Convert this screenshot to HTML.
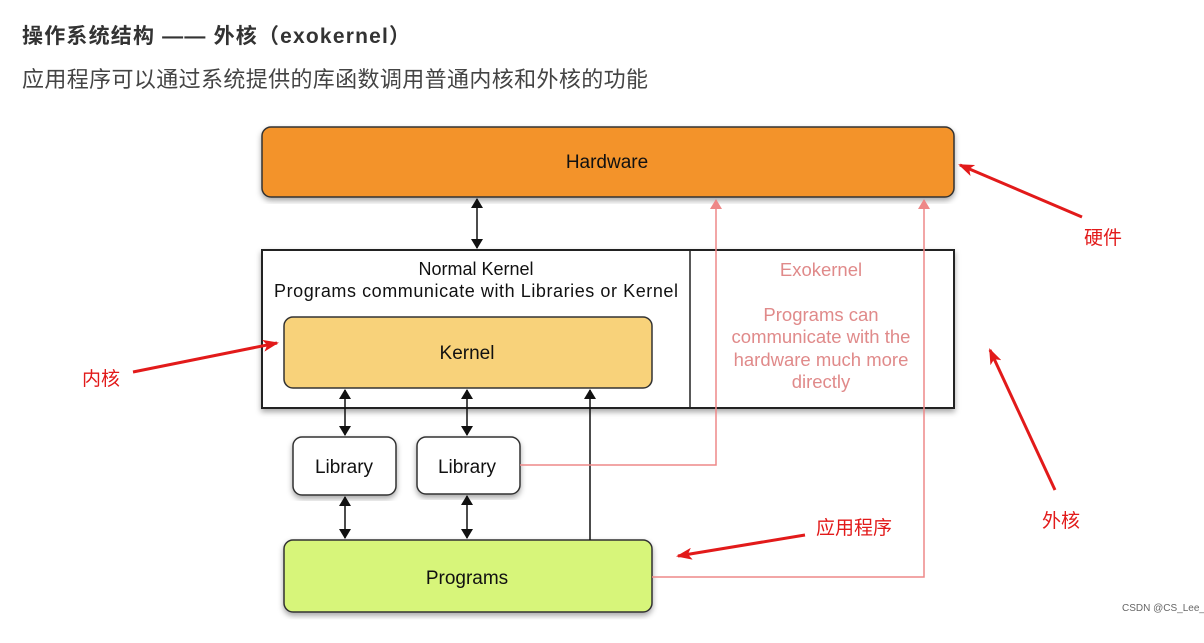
<!DOCTYPE html>
<html><head><meta charset="utf-8"><style>
body{margin:0;width:1204px;height:643px;background:#fff;overflow:hidden;font-family:"Liberation Sans","Noto Sans CJK SC",sans-serif}
</style></head><body>
<svg width="1204" height="643" xmlns="http://www.w3.org/2000/svg" style="position:absolute;left:0;top:0">
<defs>
<marker id="a" markerWidth="10" markerHeight="12" refX="9" refY="6" orient="auto" markerUnits="userSpaceOnUse"><path d="M0,0 L10,6 L0,12 z" fill="#111"/></marker>
<marker id="p" markerWidth="10" markerHeight="12" refX="9" refY="6" orient="auto" markerUnits="userSpaceOnUse"><path d="M0,0 L10,6 L0,12 z" fill="#e88"/></marker>
<marker id="r" markerWidth="16" markerHeight="12" refX="14" refY="6" orient="auto" markerUnits="userSpaceOnUse"><path d="M0,0 L16,6 L0,12 L4,6 z" fill="#e21a1a"/></marker>
<filter id="s"><feDropShadow dx="0" dy="3" stdDeviation="3" flood-opacity="0.35"/></filter>
</defs>
<text x="22" y="43" font-size="21" font-weight="bold" fill="#333" textLength="388">操作系统结构 —— 外核（exokernel）</text>
<text x="22" y="87" font-size="22" fill="#444" textLength="626">应用程序可以通过系统提供的库函数调用普通内核和外核的功能</text>

<rect x="262" y="127" width="692" height="70" rx="9" fill="#f3932a" stroke="#333" stroke-width="1.5" filter="url(#s)"/>
<text x="607" y="168" font-size="19" text-anchor="middle" fill="#111">Hardware</text>

<rect x="262" y="250" width="692" height="158" fill="#fff" stroke="#222" stroke-width="2" filter="url(#s)"/>
<line x1="690" y1="250" x2="690" y2="408" stroke="#222" stroke-width="1.5"/>
<text x="476" y="275" font-size="18" text-anchor="middle" fill="#111">Normal Kernel</text>
<text x="476" y="297" font-size="18" text-anchor="middle" fill="#111" textLength="404">Programs communicate with Libraries or Kernel</text>
<g font-size="18.5" text-anchor="middle" fill="#e08a8a">
<text x="821" y="276">Exokernel</text>
<text x="821" y="321">Programs can</text>
<text x="821" y="343">communicate with the</text>
<text x="821" y="366">hardware much more</text>
<text x="821" y="388">directly</text>
</g>
<rect x="284" y="317" width="368" height="71" rx="9" fill="#f8d27a" stroke="#333" stroke-width="1.5"/>
<text x="467" y="359" font-size="19" text-anchor="middle" fill="#111">Kernel</text>

<rect x="293" y="437" width="103" height="58" rx="9" fill="#fff" stroke="#333" stroke-width="1.5" filter="url(#s)"/>
<text x="344" y="473" font-size="19" text-anchor="middle" fill="#111">Library</text>
<rect x="417" y="437" width="103" height="57" rx="9" fill="#fff" stroke="#333" stroke-width="1.5" filter="url(#s)"/>
<text x="467" y="473" font-size="19" text-anchor="middle" fill="#111">Library</text>
<rect x="284" y="540" width="368" height="72" rx="9" fill="#d7f57a" stroke="#333" stroke-width="1.5" filter="url(#s)"/>
<text x="467" y="584" font-size="19" text-anchor="middle" fill="#111">Programs</text>

<g stroke="#111" stroke-width="1.5">
<line x1="477" y1="220" x2="477" y2="199" marker-end="url(#a)"/>
<line x1="477" y1="220" x2="477" y2="248" marker-end="url(#a)"/>
<line x1="345" y1="410" x2="345" y2="390" marker-end="url(#a)"/>
<line x1="345" y1="410" x2="345" y2="435" marker-end="url(#a)"/>
<line x1="467" y1="410" x2="467" y2="390" marker-end="url(#a)"/>
<line x1="467" y1="410" x2="467" y2="435" marker-end="url(#a)"/>
<line x1="345" y1="515" x2="345" y2="497" marker-end="url(#a)"/>
<line x1="345" y1="515" x2="345" y2="538" marker-end="url(#a)"/>
<line x1="467" y1="515" x2="467" y2="496" marker-end="url(#a)"/>
<line x1="467" y1="515" x2="467" y2="538" marker-end="url(#a)"/>
<line x1="590" y1="540" x2="590" y2="390" marker-end="url(#a)"/>
</g>
<g stroke="#e88" stroke-width="1.5" fill="none">
<polyline points="520,465 716,465 716,200" marker-end="url(#p)"/>
<polyline points="652,577 924,577 924,200" marker-end="url(#p)"/>
</g>
<g stroke="#e21a1a" stroke-width="3" fill="none">
<line x1="1082" y1="217" x2="960" y2="165" marker-end="url(#r)"/>
<line x1="133" y1="372" x2="277" y2="343" marker-end="url(#r)"/>
<line x1="1055" y1="490" x2="990" y2="350" marker-end="url(#r)"/>
<line x1="805" y1="535" x2="678" y2="556" marker-end="url(#r)"/>
</g>
<g font-size="19" fill="#e21a1a">
<text x="1084" y="244">硬件</text>
<text x="82" y="385">内核</text>
<text x="1042" y="527">外核</text>
<text x="816" y="534">应用程序</text>
</g>
<text x="1122" y="611" font-size="10" fill="#666">CSDN @CS_Lee_</text>
</svg>
</body></html>
